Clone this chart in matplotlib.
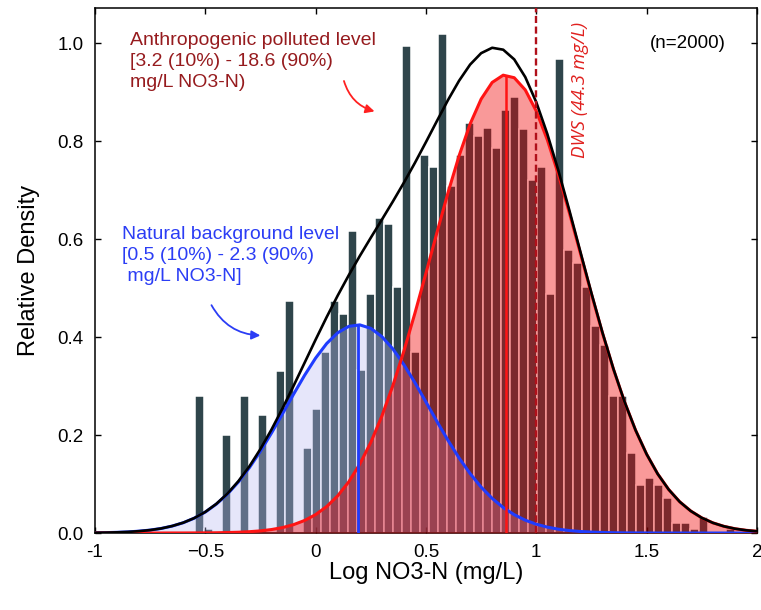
import numpy as np
import matplotlib.pyplot as plt

plt.rcParams['font.family'] = ['Liberation Sans', 'DejaVu Sans']

# histogram of log NO3-N (relative density), one value per bin
bin_start = -0.526
bin_width = 0.0408
bar_heights = [0.279, 0.008, 0.0, 0.200, 0.0, 0.279, 0.0, 0.241, 0.0, 0.331,
               0.473, 0.0, 0.174, 0.253, 0.370, 0.473, 0.447, 0.616, 0.333, 0.487,
               0.643, 0.630, 0.502, 0.994, 0.370, 0.772, 0.747, 1.018, 0.708, 0.772,
               0.837, 0.810, 0.826, 0.786, 0.863, 0.889, 0.824, 0.721, 0.746, 0.487,
               0.967, 0.577, 0.552, 0.502, 0.423, 0.384, 0.280, 0.280, 0.163, 0.098,
               0.112, 0.098, 0.072, 0.020, 0.020, 0.008, 0.033, 0.0, 0.0, 0.008]

# fitted component curves, read every 0.05 from -1 to 2
curve_x = np.linspace(-1, 2, 61)
natural_curve = [0.0005, 0.0008, 0.0014, 0.0023, 0.0038, 0.0060, 0.0093, 0.0142, 0.0210, 0.0303,
                 0.0428, 0.0590, 0.0793, 0.1042, 0.1335, 0.1671, 0.2041, 0.2434, 0.2833, 0.3219,
                 0.3571, 0.3867, 0.4087, 0.4217, 0.4248, 0.4177, 0.4009, 0.3757, 0.3436, 0.3068,
                 0.2674, 0.2275, 0.1890, 0.1532, 0.1213, 0.0937, 0.0707, 0.0520, 0.0374, 0.0262,
                 0.0180, 0.0120, 0.0078, 0.0050, 0.0031, 0.0019, 0.0011, 0.0006, 0.0003, 0.0002,
                 0.0001, 0, 0, 0, 0, 0, 0, 0, 0, 0, 0]
anthro_curve = [0, 0, 0, 0, 0, 0, 0, 0.0001, 0.0001, 0.0002,
                0.0003, 0.0005, 0.0010, 0.0016, 0.0027, 0.0044, 0.0071, 0.0111, 0.0171, 0.0256,
                0.0376, 0.0540, 0.0759, 0.1044, 0.1405, 0.1850, 0.2385, 0.3009, 0.3715, 0.4487,
                0.5305, 0.6137, 0.6948, 0.7698, 0.8347, 0.8856, 0.9196, 0.9344, 0.9292, 0.9043,
                0.8611, 0.8024, 0.7318, 0.6532, 0.5705, 0.4875, 0.4078, 0.3338, 0.2674, 0.2096,
                0.1608, 0.1207, 0.0887, 0.0637, 0.0449, 0.0309, 0.0208, 0.0137, 0.0088, 0.0056,
                0.0035]

natural_mode, natural_peak = 0.19, 0.425
anthro_mode, anthro_peak = 0.862, 0.935
dws_log = 1.0   # 44.3 mg/L nitrate = 10 mg/L NO3-N

x_ticks = [-1, -0.5, 0, 0.5, 1, 1.5, 2]
x_ticklabels = ['-1', '\u22120.5', '0', '0.5', '1', '1.5', '2']
y_ticks = [0.0, 0.2, 0.4, 0.6, 0.8, 1.0]

bin_centers = bin_start + bin_width * np.arange(len(bar_heights))
natural_curve = np.array(natural_curve)
anthro_curve = np.array(anthro_curve)
total_curve = natural_curve + anthro_curve

blue = '#1f3cff'
red = '#ff1414'

fig = plt.figure(figsize=(7.61, 6.10), dpi=100)
ax = fig.add_axes([0.1248, 0.1262, 0.8699, 0.8607])

ax.bar(bin_centers, bar_heights, width=bin_width, color='#2f454b',
       edgecolor='white', linewidth=1.1, zorder=1)
ax.fill_between(curve_x, natural_curve, color='#babaf2', alpha=0.36, lw=0, zorder=2)
ax.fill_between(curve_x, anthro_curve, color='#f20000', alpha=0.4, lw=0, zorder=3)
ax.plot(curve_x, natural_curve, color=blue, lw=2.2, zorder=5)
ax.plot(curve_x, anthro_curve, color=red, lw=2.2, zorder=5)
ax.plot(curve_x, total_curve, color='black', lw=1.9, zorder=6)
ax.vlines(natural_mode, 0, natural_peak, color=blue, lw=2.0, zorder=5)
ax.vlines(anthro_mode, 0, anthro_peak, color=red, lw=1.8, zorder=5)
ax.axvline(dws_log, color='#b0101a', lw=1.7, ls=(0, (3, 1.5)), zorder=7)

# annotations
ax.text(-0.841, 1.022, 'Anthropogenic polluted level\n[3.2 (10%) - 18.6 (90%)\nmg/L NO3-N)',
        color='#961b1e', fontsize=14, ha='left', va='top', linespacing=1.3)
ax.text(-0.879, 0.626, 'Natural background level\n[0.5 (10%) - 2.3 (90%)\n mg/L NO3-N]',
        color='#2b3df5', fontsize=14, ha='left', va='top', linespacing=1.3)
ax.annotate('', xy=(0.279, 0.859), xytext=(0.125, 0.928),
            arrowprops=dict(arrowstyle='-|>', color='#ff2020', lw=1.3,
                            mutation_scale=13, connectionstyle='arc3,rad=0.3'))
ax.annotate('', xy=(-0.238, 0.403), xytext=(-0.478, 0.470),
            arrowprops=dict(arrowstyle='-|>', color='#2b3df5', lw=1.3,
                            mutation_scale=13, connectionstyle='arc3,rad=0.3'))
ax.text(1.685, 1.0, '(n=2000)', fontsize=13.5, ha='center', va='center')
ax.text(1.20, 0.904, 'DWS (44.3 mg/L)', color='#e0201e', fontsize=13.5,
        family=['Open Sans', 'DejaVu Sans'], style='italic',
        rotation=90, ha='center', va='center')

ax.set_xlim(-1, 2)
ax.set_ylim(0, 1.0715)
ax.set_xticks(x_ticks)
ax.set_xticklabels(x_ticklabels)
ax.set_yticks(y_ticks)
ax.set_yticklabels(['%.1f' % v for v in y_ticks])
ax.set_xlabel('Log NO3-N (mg/L)', fontsize=17)
ax.set_ylabel('Relative Density', fontsize=17)
ax.xaxis.set_label_coords(0.5, -0.056)
ax.yaxis.set_label_coords(-0.083, 0.5)
ax.tick_params(direction='in', top=True, right=True, length=4, width=1,
               labelsize=13.5, pad=8)
for s in ax.spines.values():
    s.set_linewidth(1.1)

fig.savefig('out.png', dpi=100)
